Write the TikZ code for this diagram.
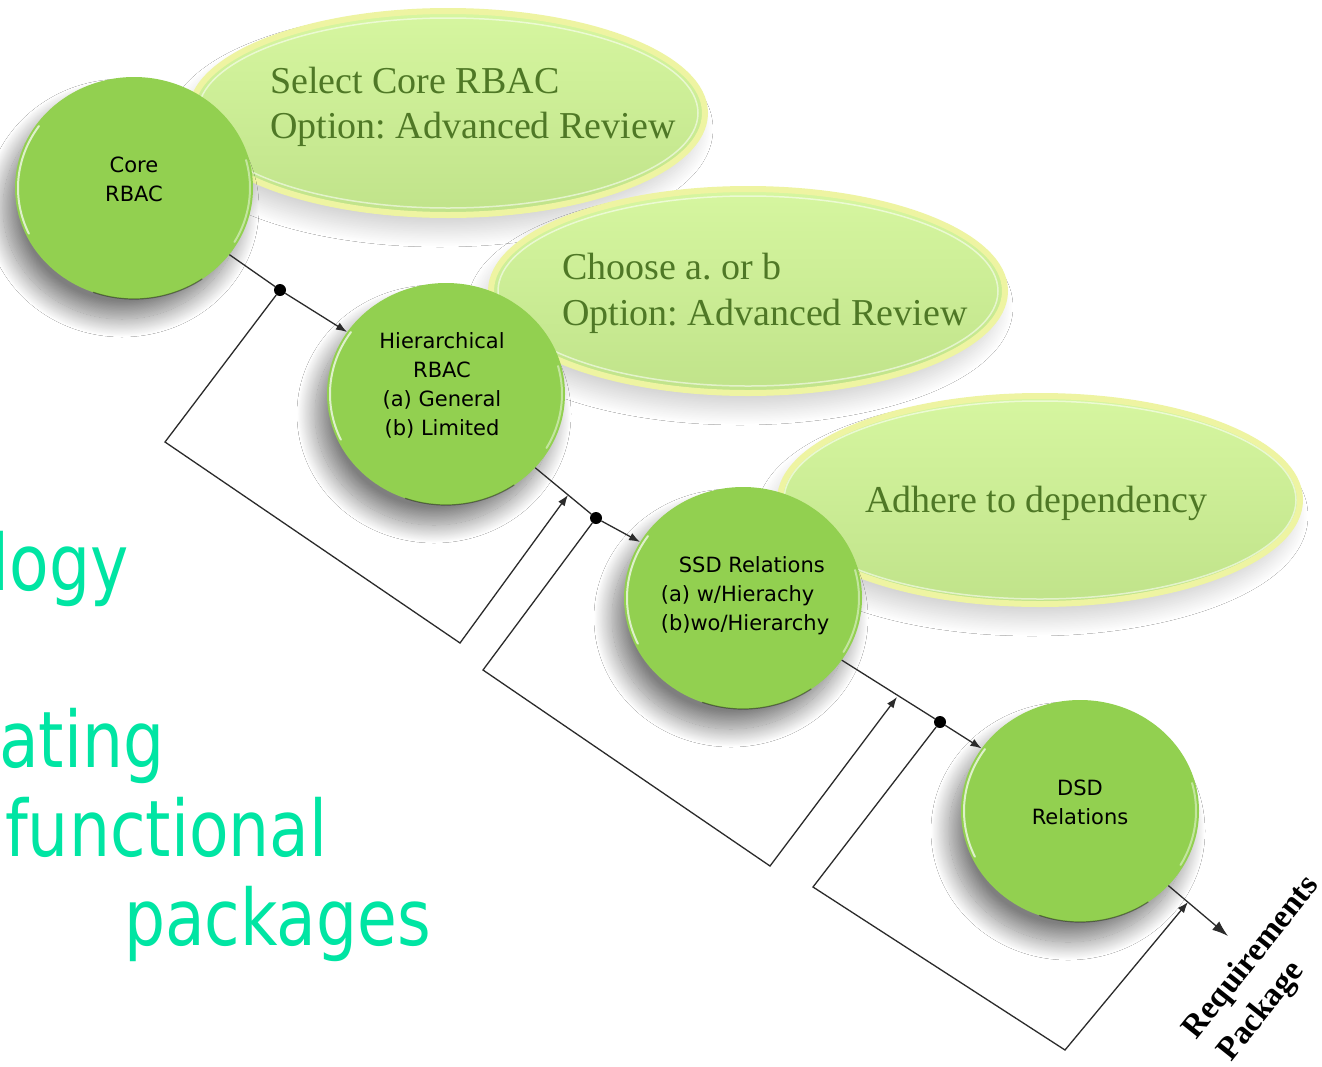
\documentclass[tikz,border=0pt]{standalone}
\usepackage{fontspec}
\setmainfont{Liberation Serif}
\newfontfamily\tahomalike{DejaVu Sans}
\usetikzlibrary{arrows.meta,shapes.geometric,shadows.blur}
\definecolor{circgreen}{HTML}{92D050}
\definecolor{bubtop}{HTML}{D6F6A0}
\definecolor{bubbot}{HTML}{C0E38A}
\definecolor{bubrim}{HTML}{EEF4A2}
\definecolor{bubtext}{HTML}{4F7826}
\definecolor{slidegreen}{HTML}{00E5A3}
\definecolor{linegray}{HTML}{2B2B2B}
\frenchspacing
\begin{document}
\begin{tikzpicture}[x=1pt,y=-1pt,
  circ/.style={ellipse, minimum width=238pt, minimum height=222pt, inner sep=0pt, fill=circgreen,
    blur shadow={shadow xshift=-12pt, shadow yshift=-20pt, shadow blur radius=18pt, shadow blur steps=30, shadow opacity=50}},
  bubble/.style={ellipse, minimum width=514pt, minimum height=204pt, inner sep=0pt, top color=bubtop, bottom color=bubbot, draw=bubrim, line width=6pt,
    blur shadow={shadow xshift=-8pt, shadow yshift=-16pt, shadow blur radius=16pt, shadow blur steps=30, shadow opacity=18}},
  btext/.style={font=\fontsize{38}{46}\selectfont, text=bubtext, inner sep=0pt, anchor=base west},
  ctext/.style={font=\tahomalike\fontsize{21}{29}\selectfont, align=center, inner sep=0pt},
  gtext/.style={font=\tahomalike\fontsize{78}{78}\selectfont, text=slidegreen, inner sep=0pt},
  conn/.style={draw=linegray, line width=1.3pt},
  tip/.style={-{Latex[length=11pt,width=8pt]}},
  bigtip/.style={-{Latex[length=16pt,width=11pt]}},
  dot/.style={circle, fill=black, inner sep=0pt, minimum size=12pt},
  rtext/.style={font=\bfseries\fontsize{33}{40}\selectfont, rotate=51.4, inner sep=0pt},
  glint/.style={white, opacity=0.7, line width=2pt, line cap=round},
  rimline/.style={white, opacity=0.55, line width=1.5pt}
]
\useasboundingbox[fill=white] (0,0) rectangle (1322,1066);

% bubbles
\node[bubble] (b1) at (448,113) {};
\node[bubble] (b2) at (748,291) {};
\node[bubble, minimum width=520pt, minimum height=208pt] (b3) at (1040,500) {};
\draw[rimline] (b1.center) ellipse[x radius=250pt, y radius=95pt];
\draw[rimline] (b2.center) ellipse[x radius=250pt, y radius=95pt];
\draw[rimline] (b3.center) ellipse[x radius=256pt, y radius=99pt];

\node[btext] (t1a) at (270,93) {Select Core RBAC};
\node[btext] (t1b) at (270,138) {Option: Advanced Review};
\node[btext] (t2a) at (562,279) {Choose a. or b};
\node[btext] (t2b) at (562,325) {Option: Advanced Review};
\node[btext] (t3a) at (865,512) {Adhere to dependency};

% circles
\node[circ] (core) at (134,188) {};
\node[circ] (hier) at (446,394) {};
\node[circ] (ssd) at (743,598) {};
\node[circ] (dsd) at (1080,811) {};
\foreach \c in {core,hier,ssd,dsd}{
  \draw[glint] ([shift={(145:116pt and 108pt)}]\c.center) arc[start angle=145, end angle=205, x radius=116pt, y radius=108pt];
  \draw[glint, opacity=0.45] ([shift={(-30:116pt and 108pt)}]\c.center) arc[start angle=-30, end angle=15, x radius=116pt, y radius=108pt];
  \draw[black, opacity=0.4, line width=1.2pt] ([shift={(-110:119pt and 111pt)}]\c.center) arc[start angle=-110, end angle=-55, x radius=119pt, y radius=111pt];
}

\node[ctext] (coret) at (134,179) {Core\\RBAC};
\node[ctext] (hiert) at (442,385) {Hierarchical\\RBAC\\(a) General\\(b) Limited};
\node[ctext, align=left] (ssdt) at (745,596) {\hspace*{18pt}SSD Relations\\(a) w/Hierachy\\(b)wo/Hierarchy};
\node[ctext] (dsdt) at (1080,802) {DSD\\Relations};

% junctions and corners
\node[dot] (d1) at (280,290) {};
\node[dot] (d2) at (596,518) {};
\node[dot] (d3) at (940,722) {};
\coordinate (l1a) at (165,442);
\coordinate (l1b) at (460,643);
\coordinate (a1) at (568,495);
\coordinate (l2a) at (483,670);
\coordinate (l2b) at (770,866);
\coordinate (a2) at (897,697);
\coordinate (l3a) at (813,887);
\coordinate (l3b) at (1065,1050);
\coordinate (a3) at (1188,902);
\coordinate (out) at (1228,936);

% main flow
\draw[conn] (core) -- (d1);
\draw[conn, tip] (d1) -- (hier);
\draw[conn] (hier) -- (d2);
\draw[conn, tip] (d2) -- (ssd);
\draw[conn] (ssd) -- (d3);
\draw[conn, tip] (d3) -- (dsd);
\draw[conn, bigtip] (dsd) -- (out);

% feedback loops
\draw[conn, tip] (d1) -- (l1a) -- (l1b) -- (a1);
\draw[conn, tip] (d2) -- (l2a) -- (l2b) -- (a2);
\draw[conn, tip] (d3) -- (l3a) -- (l3b) -- (a3);

% rotated label
\node[rtext] (req) at (1252,958) {Requirements};
\node[rtext] (pkg) at (1262,1012) {Package};

% slide text fragments
\node[gtext, anchor=base east] (g1) at (129,590) {\scalebox{0.83}[1]{logy}};
\node[gtext, anchor=base west] (g2) at (-1,767) {\scalebox{0.83}[1]{ating}};
\node[gtext, anchor=base west] (g3) at (5,856) {\scalebox{0.83}[1]{functional}};
\node[gtext, anchor=base west] (g4) at (124,945) {\scalebox{0.83}[1]{packages}};
\end{tikzpicture}
\end{document}
